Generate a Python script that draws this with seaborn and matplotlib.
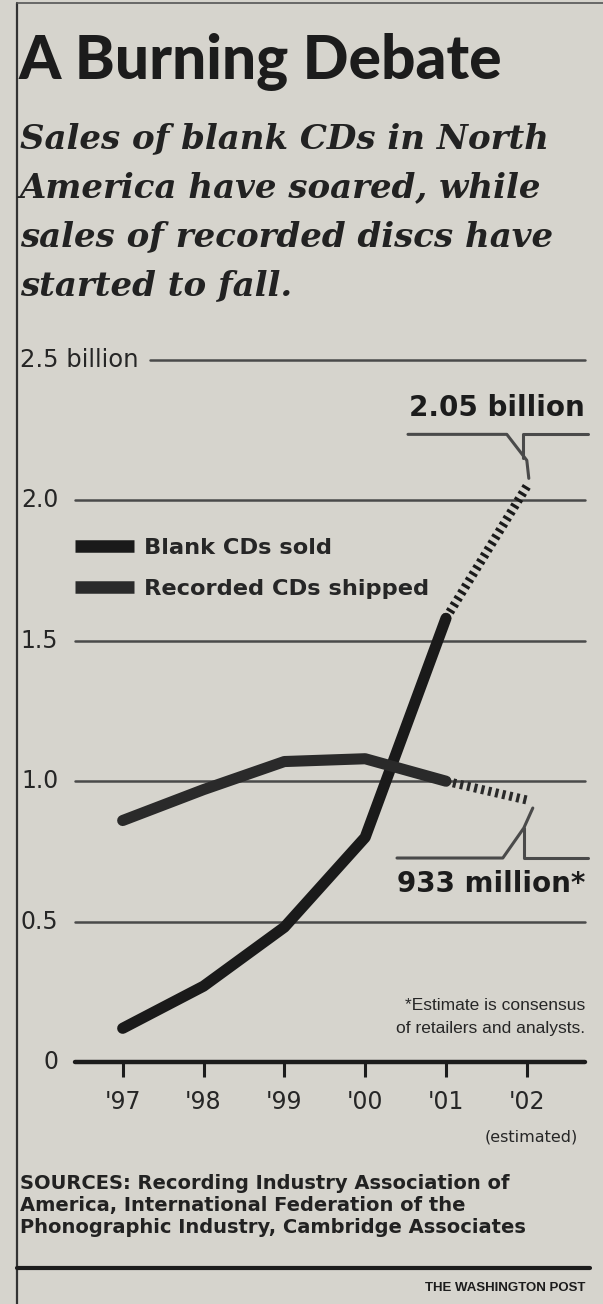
import matplotlib
matplotlib.use("Agg")
import matplotlib.pyplot as plt
from matplotlib import font_manager
from matplotlib.lines import Line2D
import matplotlib.transforms as mtransforms
import pandas as pd
import seaborn as sns

# ---------------- data ----------------
years = [1997, 1998, 1999, 2000, 2001, 2002]
year_labels = ["'97", "'98", "'99", "'00", "'01", "'02"]
blank_cds = [0.12, 0.27, 0.48, 0.80, 1.58, 2.05]        # billions
recorded_cds = [0.86, 0.97, 1.07, 1.08, 1.00, 0.933]    # billions
estimated_from = 2001
y_ticks = [0, 0.5, 1.0, 1.5, 2.0, 2.5]
y_tick_labels = ["0", "0.5", "1.0", "1.5", "2.0", "2.5 billion"]
series_names = ["Blank CDs sold", "Recorded CDs shipped"]

title = "A Burning Debate"
subtitle = ["Sales of blank CDs in North", "America have soared, while",
            "sales of recorded discs have", "started to fall."]
note = ["*Estimate is consensus", "of retailers and analysts."]
sources = ["SOURCES: Recording Industry Association of",
           "America, International Federation of the",
           "Phonographic Industry, Cambridge Associates"]
credit = "THE WASHINGTON POST"

# ---------------- style ----------------
W, H = 603, 1304
BG = "#d6d4cd"
INK = "#1c1c1c"
GRID = "#4a4a4a"
TXT = "#262626"

sns.set_theme(style="white")
names = {f.name for f in font_manager.fontManager.ttflist}
SANS = ["DejaVu Sans"]
NARROW = ["Liberation Sans Narrow"] if "Liberation Sans Narrow" in names else ["Liberation Sans"]
TITLEF = ["Lato"] if "Lato" in names else ["Liberation Sans"]
plt.rcParams["font.family"] = SANS

fig = plt.figure(figsize=(W / 100, H / 100), dpi=100, facecolor=BG)


def fx(x):
    return x / W


def fy(y):
    return 1 - y / H


ax = fig.add_axes([fx(75), fy(1062), (585 - 75) / W, (1062 - 360) / H])
ax.set_facecolor(BG)
ax.patch.set_alpha(0)
for s in ax.spines.values():
    s.set_visible(False)
ax.set_xlim(1996.41, 2002.72)
ax.set_ylim(0, 2.5)

# gridlines
for v in y_ticks[1:]:
    xmin = (150 - 75) / 510 if v == y_ticks[-1] else 0
    ax.axhline(v, xmin=xmin, color=GRID, lw=1.8, clip_on=False, zorder=1)
ax.axhline(0, color=INK, lw=3.2, clip_on=False, zorder=1)

# data frames
rows = []
for name, vals in zip(series_names, [blank_cds, recorded_cds]):
    for yr, v in zip(years, vals):
        rows.append({"year": yr, "value": v, "series": name})
df = pd.DataFrame(rows)
df_solid = df[df.year <= estimated_from]
df_est = df[df.year >= estimated_from]
pal = {series_names[0]: "#1a1a1a", series_names[1]: "#2a2a2a"}

sns.lineplot(data=df_solid, x="year", y="value", hue="series", palette=pal,
             lw=8, legend=False, ax=ax, solid_capstyle="round",
             solid_joinstyle="round", zorder=3)
sns.lineplot(data=df_est, x="year", y="value", hue="series", palette=pal,
             lw=6.5, legend=False, ax=ax, linestyle=(0, (0.35, 0.45)),
             dash_capstyle="butt", zorder=3)

# axes ticks
ax.set_xticks(years)
ax.set_xticklabels(year_labels, fontsize=17, color=TXT)
ax.tick_params(axis="x", bottom=True, length=11, width=2.2, color=INK,
               direction="out", pad=9)
ax.set_yticks(y_ticks[:-1])
ax.set_yticklabels(y_tick_labels[:-1], fontsize=17, color=TXT)
ax.tick_params(axis="y", left=False, length=0, pad=12)
for lab in ax.get_yticklabels():
    lab.set_verticalalignment("center")
ax.set_xlabel("")
ax.set_ylabel("")
ax.text(fx(20), y_ticks[-1], y_tick_labels[-1],
        transform=mtransforms.blended_transform_factory(fig.transFigure, ax.transData),
        fontsize=17.5, color=TXT, ha="left", va="center")

# legend
handles = [Line2D([], [], color=pal[n], lw=9, solid_capstyle="butt") for n in series_names]
ax.legend(handles, series_names, loc="center left", bbox_to_anchor=(0, 0.703),
          frameon=False, handlelength=2.6, handletextpad=0.45,
          labelspacing=0.9, borderpad=0, borderaxespad=0,
          prop={"family": SANS, "weight": "bold", "size": 16.2})

# annotations
fig.canvas.draw()


def to_px(x, y):
    px, py = ax.transData.transform((x, y))
    return px, H - py


def poly(pts, lw=2.2):
    xs = [fx(p[0]) for p in pts]
    ys = [fy(p[1]) for p in pts]
    fig.add_artist(Line2D(xs, ys, color=GRID, lw=lw, transform=fig.transFigure))


bx, by = to_px(years[-1], blank_cds[-1])
ul = by - 52
poly([(408, ul), (bx - 20, ul), (bx, ul + 26), (bx + 2, by - 8)])
poly([(bx - 4, ul + 24), (bx - 4, ul), (588, ul)])
fig.text(fx(585), fy(ul - 12), f"{blank_cds[-1]:.2f} billion", ha="right", va="bottom",
         fontsize=20, weight="bold", color=INK)

rx, ry = to_px(years[-1], recorded_cds[-1])
ul2 = ry + 58
poly([(397, ul2), (rx - 24, ul2), (rx - 3, ul2 - 30), (rx + 6, ry + 8)])
poly([(rx - 3, ul2 - 30), (rx - 3, ul2), (588, ul2)])
fig.text(fx(585), fy(ul2 + 12), f"{round(recorded_cds[-1] * 1000)} million*", ha="right",
         va="top", fontsize=20, weight="bold", color=INK)

# footnote
for i, line in enumerate(note):
    fig.text(fx(585), fy(1006 + 22 * i), line, ha="right", va="center",
             fontsize=12.5, color=TXT, family=NARROW)
fig.text(fx(531), fy(1137), "(estimated)", ha="center", va="center",
         fontsize=11.5, color=TXT)

# title & subtitle
fig.text(fx(19), fy(79), title, ha="left", va="baseline", fontsize=43.5,
         weight="black", color=INK, family=TITLEF)
for i, line in enumerate(subtitle):
    fig.text(fx(20), fy(148 + 49 * i), line, ha="left", va="baseline",
             fontsize=24.5, style="italic", weight="bold", color="#222222",
             family=["DejaVu Serif"])

# sources
for i, line in enumerate(sources):
    fig.text(fx(20), fy(1189 + 22 * i), line, ha="left", va="baseline",
             fontsize=14, color="#222222", weight="bold")

# frame lines
fig.add_artist(Line2D([fx(17), fx(17)], [0, fy(3)], color="#333333", lw=1.6,
                      transform=fig.transFigure))
fig.add_artist(Line2D([fx(17), 1], [fy(3), fy(3)], color="#555555", lw=1.2,
                      transform=fig.transFigure))
fig.add_artist(Line2D([fx(17), fx(590)], [fy(1268), fy(1268)], color=INK, lw=3,
                      transform=fig.transFigure))
fig.text(fx(585), fy(1288), credit, ha="right", va="center", fontsize=9.5,
         weight="bold", color=INK, family=NARROW)

fig.savefig("out.png", dpi=100, facecolor=BG)
